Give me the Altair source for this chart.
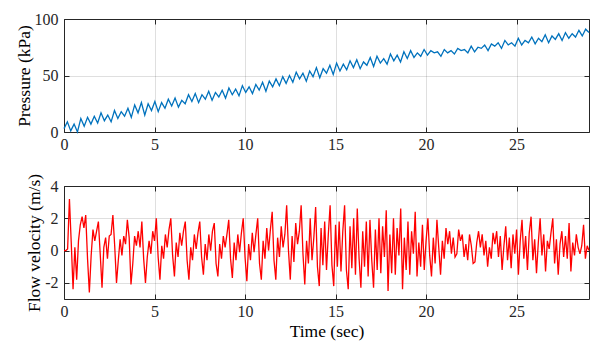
import altair as alt
import numpy as np
import pandas as pd

# ---- data ----
pressure = [
    3, 9, 1, 7, 0, 12, 5, 13, 7, 14,
    8, 17, 10, 15, 9, 19, 12, 18, 14, 21,
    13, 24, 17, 26, 15, 25, 19, 27, 18, 26,
    21, 29, 23, 30, 22, 28, 25, 33, 27, 34,
    26, 33, 29, 36, 28, 35, 31, 37, 30, 39,
    33, 38, 32, 41, 35, 40, 34, 42, 37, 44,
    36, 45, 40, 47, 41, 49, 43, 50, 44, 53,
    47, 52, 45, 54, 49, 57, 48, 56, 52, 59,
    51, 61, 54, 60, 55, 63, 57, 64, 56, 62,
    59, 66, 58, 67, 61, 65, 60, 69, 63, 68,
    62, 71, 65, 72, 66, 70, 67, 73, 68, 72,
    70, 71, 67, 73, 70, 72, 69, 74, 72, 73,
    70, 76, 71, 75, 74, 77, 72, 78, 76, 79,
    74, 81, 77, 79, 76, 83, 77, 81, 79, 84,
    78, 83, 80, 86, 79, 85, 82, 87, 81, 88,
    83, 87, 84, 90, 85, 91, 88,
]

velocity = [
    0.0, 0.0, 0.1, 3.2, 0.5, -2.4, 0.2, -1.8, 0.6, 1.6,
    2.1, 1.4, 2.2, -0.5, -2.6, -0.3, 1.3, 0.6, 1.2, 1.8,
    -0.2, -2.3, 0.2, 0.8, -0.5, 0.9, 1.0, 2.2, 0.3, -2.0,
    -0.6, 0.7, -0.3, 0.9, 0.4, 1.9, 0.8, -2.1, -0.8, 0.9,
    0.3, 1.2, 0.2, 1.8, -0.5, -2.0, -0.4, 0.6, -0.2, 1.2,
    0.6, 2.0, -0.4, -1.8, 0.3, -0.5, 1.0, 0.2, 1.3, 2.0,
    -0.3, -1.6, 0.5, -0.4, 1.1, 0.3, 1.2, 1.8, -0.6, -1.8,
    0.2, -0.6, 1.0, 0.1, 1.1, 1.8, -0.4, -1.5, 0.4, -0.6,
    1.0, 0.0, 1.2, 1.7, -0.8, -1.6, 0.4, -0.5, 0.9, 0.2,
    1.0, 1.9, -0.5, -1.7, 0.5, -0.6, 1.0, -0.1, 1.1, 2.0,
    -0.4, -1.9, 0.4, -0.6, 1.1, -0.1, 1.0, 2.0, -0.8, -1.8,
    0.6, -0.5, 1.4, 0.0, 1.3, 2.4, -0.6, -1.8, 0.8, -0.4,
    1.5, 0.2, 1.0, 2.8, 0.0, -1.8, 0.9, -0.7, 1.7, 0.4,
    1.2, 2.8, -0.2, -2.1, 0.6, -0.8, 2.0, -0.6, 0.8, 2.7,
    -1.0, -2.2, 1.4, -0.9, 1.8, -1.2, 1.0, 2.8, -0.9, -2.2,
    1.6, -1.0, 1.8, -1.3, 1.2, 2.8, -1.2, -2.4, 1.5, -1.1,
    2.0, -1.5, 2.6, -0.5, -2.3, 1.2, -1.0, 1.8, -1.6, 1.9,
    -0.6, -2.3, 1.3, -1.2, 2.0, -1.4, 1.5, -0.4, 2.5, -2.5,
    1.0, -1.4, 2.0, -1.5, 1.4, -0.3, 2.6, -2.4, 0.8, -1.2,
    1.8, -1.5, 1.2, -0.2, 2.4, -1.6, 0.5, -1.0, 1.6, -1.2,
    0.6, 2.0, -0.3, -1.6, 0.8, -0.8, 1.9, 0.2, -1.5, 0.6,
    -0.5, 1.4, 0.4, 1.2, -0.2, 0.8, -0.4, -0.2, 1.3, 0.6,
    1.0, -0.4, 0.4, -0.6, 1.0, 0.3, -0.8, -0.7, 0.5, 1.2,
    0.2, 1.0, -0.3, 0.6, -1.0, 0.2, -0.5, 1.1, 0.4, 1.2,
    -0.4, 0.9, -1.2, 0.3, 1.5, -0.6, 0.8, -1.1, 1.0, -0.2,
    1.3, -1.5, 0.6, 1.9, -0.5, 0.9, -1.2, 1.1, 2.1, -0.6,
    0.7, -1.4, 0.5, 2.0, -0.3, 1.0, -1.3, 0.6, 0.1, 1.1,
    2.0, -0.8, 0.7, -1.5, 0.4, 1.2, -0.4, 0.9, -0.5, 1.7,
    -1.3, 0.5, -0.3, 1.0, 0.2, -0.2, 0.3, 1.6, -0.5, 0.3,
    0.0,
]

x_ticks = [0, 5, 10, 15, 20, 25]
p_ticks = [0, 50, 100]
v_ticks = [-2, 0, 2, 4]
x_domain = [0, 29]
p_domain = [0, 100]
v_domain = [-3, 4]

df_p = pd.DataFrame({"t": np.linspace(0, 29, len(pressure)), "p": pressure})
df_v = pd.DataFrame({"t": np.linspace(0, 29, len(velocity)), "v": velocity})

FONT = "Liberation Serif"
INK = "#262626"
W, H = 525, 113


def panel(df, field, color, ydomain, yticks, ytitle, xtitle, label_expr=None):
    xs = alt.Scale(domain=x_domain, nice=False, zero=False)
    ys = alt.Scale(domain=ydomain, nice=False, zero=False)
    yaxis_kw = dict(values=yticks, title=ytitle, grid=True, offset=-5, tickSize=5,
                    labelPadding=6, titlePadding=1, labelFlush=False)
    if label_expr:
        yaxis_kw["labelExpr"] = label_expr
    xaxis_kw = dict(values=x_ticks, grid=True, offset=-5, tickSize=5,
                    labelPadding=4, titlePadding=3, labelFlush=False)
    xaxis_kw["title"] = xtitle if xtitle else None
    line = alt.Chart(df).mark_line(color=color, strokeWidth=1.3).encode(
        x=alt.X("t:Q", scale=xs, axis=alt.Axis(**xaxis_kw)),
        y=alt.Y(f"{field}:Q", scale=ys, axis=alt.Axis(**yaxis_kw)),
    )
    mirror = alt.Chart(df).mark_line(strokeOpacity=0).encode(
        x=alt.X("t:Q", scale=xs, axis=alt.Axis(orient="top", values=x_ticks, labels=False,
                                                title=None, grid=False, offset=-5, tickSize=5)),
        y=alt.Y(f"{field}:Q", scale=ys, axis=alt.Axis(orient="right", values=yticks, labels=False,
                                                        title=None, grid=False, offset=-5, tickSize=5)),
    )
    return alt.layer(line, mirror).resolve_axis(x="independent", y="independent").properties(
        width=W, height=H)


top = panel(df_p, "p", "#0072BD", p_domain, p_ticks, "Pressure (kPa)", None)
bottom = panel(df_v, "v", "#FF0000", v_domain, v_ticks, "Flow velocity (m/s)", "Time (sec)",
               label_expr="toString(datum.value)")

chart = alt.VConcatChart(vconcat=[top, bottom], spacing=54, bounds="flush").properties(
    padding={"left": 6, "top": 2, "right": 5, "bottom": 5},
    background="white",
).configure_view(stroke=INK, strokeWidth=1).configure_axis(
    labelFont=FONT, titleFont=FONT, labelFontSize=16, titleFontSize=17.5,
    labelColor=INK, titleColor="#000000", titleFontWeight="normal",
    tickColor=INK, domain=False, gridColor=INK, gridOpacity=0.15,
)

chart.save("out.html", embed_options={"renderer": "svg", "actions": False})
